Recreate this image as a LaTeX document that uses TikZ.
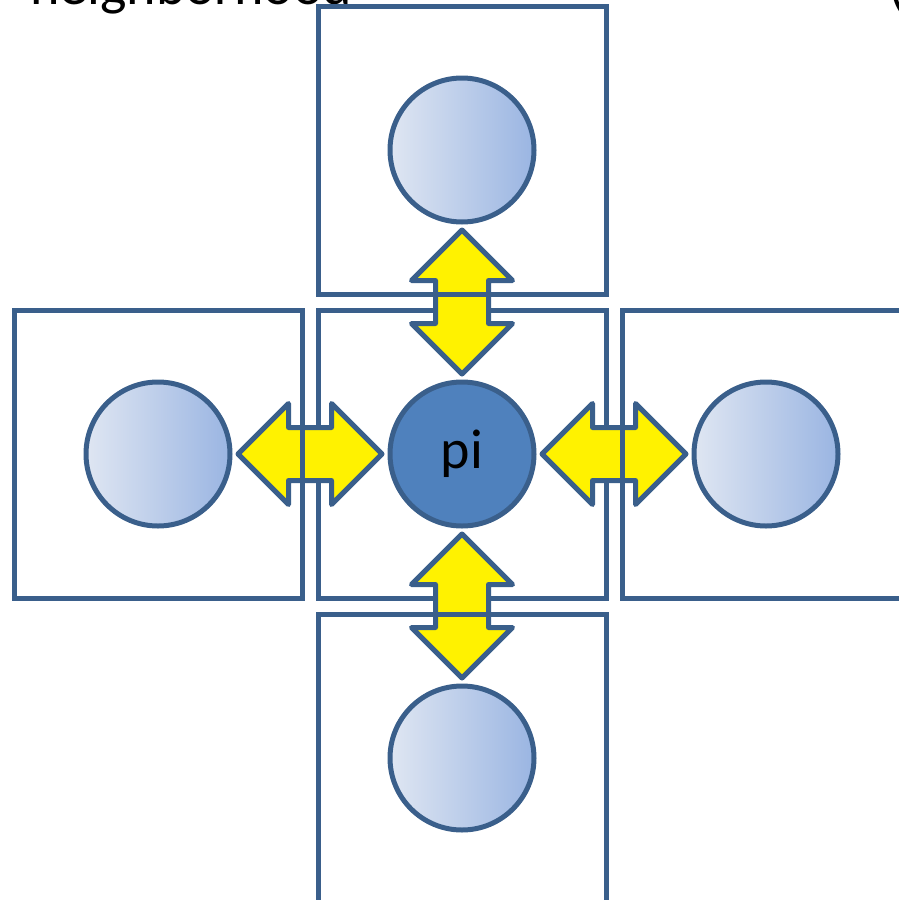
\documentclass[tikz,border=0pt]{standalone}
\usepackage{fontspec}
\setmainfont{Carlito}
\usetikzlibrary{shapes.arrows,calc}
\definecolor{cellline}{HTML}{3A5F8B}
\definecolor{pifill}{HTML}{4F81BD}
\definecolor{nbleft}{HTML}{DFE6F2}
\definecolor{nbright}{HTML}{9AB5E2}

\tikzset{
  cell/.style={draw=cellline, line width=5pt, minimum size=288pt, inner sep=0pt},
  nbcircle/.style={circle, draw=cellline, line width=5pt, minimum size=144pt, inner sep=0pt,
    left color=nbleft, right color=nbright},
  picircle/.style={circle, draw=cellline, line width=5pt, minimum size=144pt, inner sep=0pt,
    fill=pifill, font=\fontsize{56}{66}\selectfont},
  xchg/.style={double arrow, draw=cellline, line width=5pt, line join=round, fill=yellow,
    inner xsep=0pt, inner ysep=24pt, minimum height=144pt, minimum width=96pt,
    double arrow head extend=24pt},
}

\begin{document}
\begin{tikzpicture}[x=1pt, y=-1pt]
\useasboundingbox (0,0) rectangle (898,900);
\node[font=\fontsize{56}{66}\selectfont, anchor=base east] (title) at (356,4) {neighborhood};
\node[font=\fontsize{56}{66}\selectfont, anchor=base west, inner sep=0pt] (paren) at (888,4) {(};

% middle cell and the five particles
\node[cell] (cc) at (462,454) {};
\node[picircle] (pi) at (462,454) {\raisebox{-6pt}{pi}};
\node[nbcircle] (nn) at (462,150) {};
\node[nbcircle] (nw) at (158,454) {};
\node[nbcircle] (ne) at (766,454) {};
\node[nbcircle] (ns) at (462,758) {};

% exchange arrows
\node[xchg] (aw) at ($(pi.west)!0.5!(nw.east)$) {};
\node[xchg] (ae) at ($(pi.east)!0.5!(ne.west)$) {};
\node[xchg, rotate=90] (an) at ($(pi.north)!0.5!(nn.south)$) {};
\node[xchg, rotate=90] (as) at ($(pi.south)!0.5!(ns.north)$) {};

% neighbour cells
\node[cell] (cn) at (462,150) {};
\node[cell] (cw) at (158,454) {};
\node[cell] (ce) at (766,454) {};
\node[cell] (cs) at (462,758) {};
\end{tikzpicture}
\end{document}
